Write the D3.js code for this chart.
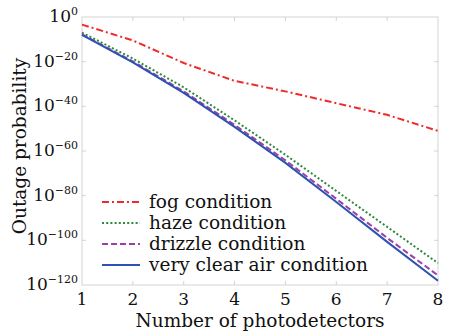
<!DOCTYPE html>
<html>
<head>
<meta charset="utf-8">
<script src="https://cdn.jsdelivr.net/npm/d3@7"></script>
<style>
  body { margin: 0; background: #fff; }
  text { font-family: "DejaVu Serif", serif; fill: #111; }
</style>
</head>
<body>
<script>
// Data: log10 of outage probability
const detectors = [1, 2, 3, 4, 5, 6, 7, 8];
const fogLog = [-3.4, -10.5, -20.6, -28.6, -33.3, -38.6, -43.8, -51.0];
const hazeLog = [-7.0, -18.6, -31.5, -46.3, -61.7, -77.9, -94.0, -110.2];
const drizzleLog = [-7.8, -19.9, -33.3, -48.3, -64.2, -81.4, -98.9, -115.7];
const clearLog = [-8.05, -20.3, -34.0, -49.2, -65.3, -82.8, -100.7, -118.1];
const seriesNames = ["fog condition", "haze condition", "drizzle condition", "very clear air condition"];
const yTickExp = [0, -20, -40, -60, -80, -100, -120];

// Styles
const colors = ["#f02a2a", "#2a8a3a", "#9c40a8", "#2c52b4"];
const dashes = ["7,3,2,3", "2,2.2", "6,3", null];

const W = 455, H = 336;
const margin = { top: 17, right: 17, bottom: 51, left: 82 };
const width = W - margin.left - margin.right,
      height = H - margin.top - margin.bottom;

const svg = d3.select("body").append("svg")
    .attr("width", W)
    .attr("height", H);

const g = svg.append("g")
    .attr("transform", "translate(" + margin.left + "," + margin.top + ")");

const x = d3.scaleLinear().domain([1, 8]).range([0, width]);
const y = d3.scaleLog().domain([1e-120, 1]).range([height, 0]);

const frameColor = "#d4d4d4";

// frame
g.append("rect")
    .attr("width", width).attr("height", height)
    .attr("fill", "none").attr("stroke", frameColor).attr("stroke-width", 1);

// inner ticks on all four sides
const tickLen = 4;
detectors.slice(1, -1).forEach(d => {
    g.append("line").attr("x1", x(d)).attr("x2", x(d)).attr("y1", height).attr("y2", height - tickLen)
        .attr("stroke", frameColor);
    g.append("line").attr("x1", x(d)).attr("x2", x(d)).attr("y1", 0).attr("y2", tickLen)
        .attr("stroke", frameColor);
});
yTickExp.slice(1, -1).forEach(e => {
    g.append("line").attr("x1", 0).attr("x2", tickLen).attr("y1", y(Math.pow(10, e))).attr("y2", y(Math.pow(10, e)))
        .attr("stroke", frameColor);
    g.append("line").attr("x1", width).attr("x2", width - tickLen).attr("y1", y(Math.pow(10, e))).attr("y2", y(Math.pow(10, e)))
        .attr("stroke", frameColor);
});

// x tick labels
g.selectAll(".xlab")
    .data(detectors)
    .enter().append("text")
    .attr("class", "xlab")
    .attr("x", d => x(d))
    .attr("y", height + 20)
    .attr("text-anchor", "middle")
    .style("font-size", "17px")
    .text(d => d);

// y tick labels: 10 with superscript exponent
const ylab = g.selectAll(".ylab")
    .data(yTickExp)
    .enter().append("text")
    .attr("class", "ylab")
    .attr("x", -4)
    .attr("y", d => y(Math.pow(10, d)) + 5)
    .attr("text-anchor", "end")
    .style("font-size", "17px");
ylab.append("tspan").text("10");
ylab.append("tspan")
    .attr("dy", -7)
    .style("font-size", "11px")
    .text(d => d === 0 ? "0" : "\u2212" + Math.abs(d));

// axis titles
svg.append("text")
    .attr("x", margin.left + width / 2)
    .attr("y", 327)
    .attr("text-anchor", "middle")
    .style("font-size", "18.5px")
    .text("Number of photodetectors");

svg.append("text")
    .attr("transform", "translate(26," + 146 + ") rotate(-90)")
    .attr("text-anchor", "middle")
    .style("font-size", "18.5px")
    .text("Outage probability");

// lines
const allSeries = [fogLog, hazeLog, drizzleLog, clearLog];
const line = d3.line()
    .x((d, i) => x(detectors[i]))
    .y(d => y(Math.pow(10, d)));

allSeries.forEach((s, i) => {
    g.append("path")
        .datum(s)
        .attr("d", line)
        .attr("fill", "none")
        .attr("stroke", colors[i])
        .attr("stroke-width", 2)
        .attr("stroke-dasharray", dashes[i]);
});

// legend
const legend = g.append("g").attr("transform", "translate(20," + 185 + ")");
seriesNames.forEach((name, i) => {
    const row = legend.append("g").attr("transform", "translate(0," + (i * 21) + ")");
    row.append("line")
        .attr("x1", 0).attr("x2", 38)
        .attr("stroke", colors[i])
        .attr("stroke-width", 2)
        .attr("stroke-dasharray", dashes[i]);
    row.append("text")
        .attr("x", 47)
        .attr("y", 6)
        .style("font-size", "18.5px")
        .text(name);
});
</script>
</body>
</html>
